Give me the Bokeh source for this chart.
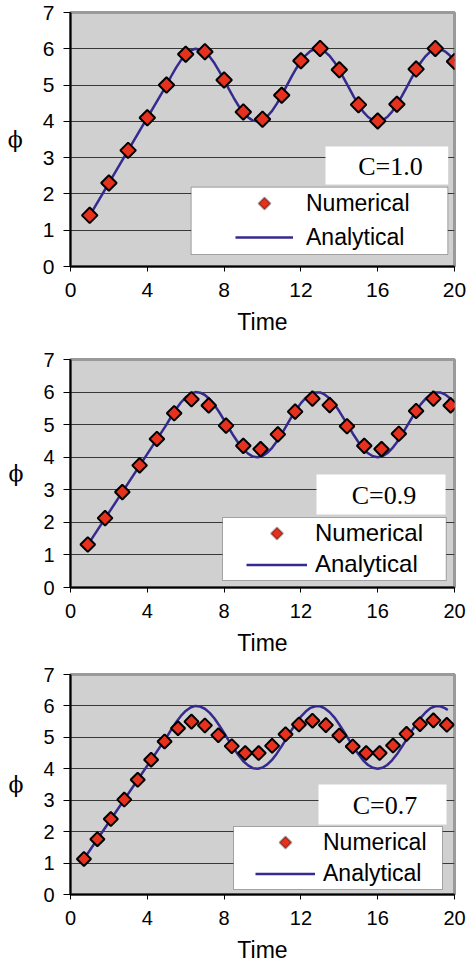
from bokeh.plotting import figure
from bokeh.models import (Range1d, FixedTicker, BoxAnnotation, Label, Legend,
                          LegendItem, PolyAnnotation)
from bokeh.layouts import column
from bokeh.embed import file_html
from bokeh.resources import INLINE
import math

# ---------------- data ----------------
x_ticks = [0, 4, 8, 12, 16, 20]
y_ticks = [0, 1, 2, 3, 4, 5, 6, 7]

num1_t = [1, 2, 3, 4, 5, 6, 7, 8, 9, 10, 11, 12, 13, 14, 15, 16, 17, 18, 19, 20]
num1_phi = [1.41, 2.30, 3.20, 4.10, 5.00, 5.85, 5.92, 5.14, 4.26, 4.06,
            4.72, 5.67, 6.01, 5.42, 4.46, 4.01, 4.47, 5.44, 6.01, 5.65]

num2_t = [0.9, 1.8, 2.7, 3.6, 4.5, 5.4, 6.3, 7.2, 8.1, 9.0, 9.9,
          10.8, 11.7, 12.6, 13.5, 14.4, 15.3, 16.2, 17.1, 18.0, 18.9, 19.8]
num2_phi = [1.32, 2.13, 2.93, 3.75, 4.56, 5.35, 5.78, 5.59, 4.97, 4.35, 4.25,
            4.70, 5.40, 5.80, 5.60, 4.95, 4.35, 4.25, 4.72, 5.42, 5.80, 5.59]

num3_t = [0.7, 1.4, 2.1, 2.8, 3.5, 4.2, 4.9, 5.6, 6.3, 7.0, 7.7, 8.4, 9.1, 9.8,
          10.5, 11.2, 11.9, 12.6, 13.3, 14.0, 14.7, 15.4, 16.1, 16.8, 17.5,
          18.2, 18.9, 19.6]
num3_phi = [1.13, 1.76, 2.40, 3.02, 3.65, 4.29, 4.87, 5.29, 5.50, 5.38, 5.07,
            4.72, 4.50, 4.50, 4.73, 5.10, 5.41, 5.53, 5.39, 5.06, 4.71, 4.50,
            4.50, 4.74, 5.11, 5.42, 5.54, 5.40]

# analytical curve (same in all panels): straight rise, then oscillation
ana_t = [5.00, 5.25, 5.50, 5.75, 6.00, 6.25, 6.50, 6.75, 7.00, 7.25, 7.50,
         7.75, 8.00, 8.25, 8.50, 8.75, 9.00, 9.25, 9.50, 9.75, 10.00, 10.25,
         10.50, 10.75, 11.00, 11.25, 11.50, 11.75, 12.00, 12.25, 12.50, 12.75,
         13.00, 13.25, 13.50, 13.75, 14.00, 14.25, 14.50, 14.75, 15.00, 15.25,
         15.50, 15.75, 16.00, 16.25, 16.50, 16.75, 17.00, 17.25, 17.50, 17.75,
         18.00, 18.25, 18.50, 18.75, 19.00, 19.25, 19.50, 19.75, 20.00]
ana_phi = [5.00, 5.25, 5.48, 5.68, 5.84, 5.95, 6.00, 5.98, 5.91, 5.78, 5.60,
           5.38, 5.14, 4.89, 4.65, 4.43, 4.24, 4.11, 4.02, 4.00, 4.04, 4.14,
           4.29, 4.49, 4.72, 4.97, 5.22, 5.45, 5.66, 5.82, 5.94, 5.99,
           5.99, 5.92, 5.80, 5.63, 5.41, 5.17, 4.93, 4.68, 4.46, 4.26,
           4.12, 4.03, 4.00, 4.03, 4.12, 4.27, 4.46, 4.69, 4.93, 5.18,
           5.42, 5.63, 5.80, 5.93, 5.99, 5.99, 5.93, 5.82, 5.65]
ana1_start, ana1_end = (1.0, 1.40), (20.0, 5.65)
ana2_start, ana2_end = (0.9, 1.31), (19.8, 5.79)
ana3_start, ana3_end = (0.7, 1.13), (19.65, 5.87)

c_labels = ["C=1.0", "C=0.9", "C=0.7"]
legend_labels = ["Numerical", "Analytical"]

# ---------------- styling / layout ----------------
W, LEFT, RIGHT = 471, 70, 17
FILL = "#E5311D"
LINE = "#352A8E"
BG = "#D0D0D0"

panels = [
    dict(num=(num1_t, num1_phi), a0=ana1_start, a1=ana1_end, c=c_labels[0],
         page_top=0, height=345, top=12, bottom=79, tick_fs="21px", leg_fs="23px",
         msize=11.0, leg_box=(190.7, 186.7, 447.3, 254.0), leg_left=165,
         leg_bottom=12, gw=58, gh=34, stand=13,
         c_box=(325, 146, 447.7, 184), c_center=(390, 165.5)),
    dict(num=(num2_t, num2_phi), a0=ana2_start, a1=ana2_end, c=c_labels[1],
         page_top=345, height=317, top=14, bottom=75, tick_fs="20px", leg_fs="24px",
         msize=10.4, leg_box=(222, 517, 445.7, 580), leg_left=176,
         leg_bottom=7.5, gw=61, gh=31, stand=8,
         c_box=(316, 474, 445, 514), c_center=(383.5, 494.5)),
    dict(num=(num3_t, num3_phi), a0=ana3_start, a1=ana3_end, c=c_labels[2],
         page_top=662, height=304, top=12, bottom=72, tick_fs="20px", leg_fs="23px",
         msize=10.0, leg_box=(233, 826, 442, 889), leg_left=185,
         leg_bottom=5.5, gw=60, gh=31, stand=8,
         c_box=(318, 784, 446, 824), c_center=(384.5, 804.5)),
]

figs = []
for cfg in panels:
    f_top = cfg["page_top"] + cfg["top"]
    f_bot = cfg["page_top"] + cfg["height"] - cfg["bottom"]
    f_h = f_bot - f_top
    f_w = W - LEFT - RIGHT

    def dx(px):
        return (px - LEFT) / f_w * 20.0

    def dy(py):
        return (f_bot - py) / f_h * 7.0

    p = figure(width=W, height=cfg["height"], output_backend="svg",
               toolbar_location=None, x_range=Range1d(0, 20), y_range=Range1d(0, 7),
               min_border_left=LEFT, min_border_right=RIGHT,
               min_border_top=cfg["top"], min_border_bottom=cfg["bottom"])
    p.background_fill_color = BG
    p.border_fill_color = "white"
    p.outline_line_color = "#9A9A9A"
    p.outline_line_width = 3

    p.xgrid.visible = False
    p.ygrid.ticker = FixedTicker(ticks=[1, 2, 3, 4, 5, 6])
    p.ygrid.grid_line_color = "#383838"
    p.ygrid.grid_line_width = 1

    for ax, ticks, tout in ((p.xaxis[0], x_ticks, 5), (p.yaxis[0], y_ticks, 7)):
        ax.ticker = FixedTicker(ticks=ticks)
        ax.minor_tick_line_color = None
        ax.major_tick_in = 0
        ax.major_tick_out = tout
        ax.major_tick_line_color = "black"
        ax.axis_line_color = "black"
        ax.axis_line_width = 2
        ax.major_label_text_font = "Liberation Sans"
        ax.major_label_text_font_size = cfg["tick_fs"]
        ax.major_label_text_color = "black"
        ax.axis_label_text_font_style = "normal"
        ax.axis_label_text_color = "black"
    p.xaxis.axis_label = "Time"
    p.xaxis.axis_label_text_font = "Liberation Sans"
    p.xaxis.axis_label_text_font_size = "23px"
    p.xaxis.major_label_standoff = 11
    p.xaxis.axis_label_standoff = 9
    p.yaxis.axis_label = "ϕ"
    p.yaxis.axis_label_text_font = "DejaVu Serif"
    p.yaxis.axis_label_text_font_size = "22px"
    p.yaxis.axis_label_orientation = "horizontal"
    p.yaxis.major_label_standoff = 9
    p.yaxis.axis_label_standoff = 17

    (t0, a0), (t1, a1) = cfg["a0"], cfg["a1"]
    at = [t0] + [t for t in ana_t if t0 < t < t1] + [t1]
    ay = [a0] + [v for t, v in zip(ana_t, ana_phi) if t0 < t < t1] + [a1]
    line_r = p.line(at, ay, line_color=LINE, line_width=2.5)

    nt, nphi = cfg["num"]
    p.scatter(nt, nphi, marker="square", angle=math.pi / 4,
              size=cfg["msize"], fill_color=FILL, line_color="black",
              line_width=2)
    # legend proxy for the numerical series (its swatch is drawn as a diamond below)
    num_leg_r = p.scatter([], [], marker="square", fill_alpha=0, line_alpha=0)

    # text box with C value
    x0, y0, x1, y1 = cfg["c_box"]
    p.add_layout(BoxAnnotation(left=dx(x0), right=dx(x1), top=dy(y0), bottom=dy(y1),
                               fill_color="white", fill_alpha=1.0, line_color=None))
    cx, cy = cfg["c_center"]
    p.add_layout(Label(x=dx(cx), y=dy(cy), text=cfg["c"], text_align="center",
                       text_baseline="middle", text_font="Liberation Serif",
                       text_font_size="26px", text_color="black"))

    # legend box
    x0, y0, x1, y1 = cfg["leg_box"]
    p.add_layout(BoxAnnotation(left=dx(x0), right=dx(x1), top=dy(y0), bottom=dy(y1),
                               fill_color="white", fill_alpha=1.0, line_color="black",
                               line_width=1))
    leg = Legend(items=[LegendItem(label=legend_labels[0], renderers=[num_leg_r]),
                        LegendItem(label=legend_labels[1], renderers=[line_r])],
                 location=(cfg["leg_left"], cfg["leg_bottom"]),
                 padding=0, spacing=0, margin=0,
                 glyph_width=cfg["gw"], glyph_height=cfg["gh"],
                 label_height=cfg["gh"], label_standoff=cfg["stand"],
                 label_text_font="Liberation Sans", label_text_font_size=cfg["leg_fs"],
                 label_text_color="black",
                 border_line_alpha=0, background_fill_alpha=0)
    p.add_layout(leg)

    # diamond swatch of the legend's first row
    sx = LEFT + cfg["leg_left"] + cfg["gw"] / 2.0
    sy = f_bot - cfg["leg_bottom"] - 1.5 * cfg["gh"]
    hd = 6.0
    p.add_layout(PolyAnnotation(
        xs=[dx(sx), dx(sx + hd), dx(sx), dx(sx - hd)],
        ys=[dy(sy - hd), dy(sy), dy(sy + hd), dy(sy)],
        fill_color=FILL, fill_alpha=1.0, line_color="black", line_width=2))
    figs.append(p)

layout = column(*figs, spacing=0)
open("out.html", "w").write(file_html(layout, INLINE))
